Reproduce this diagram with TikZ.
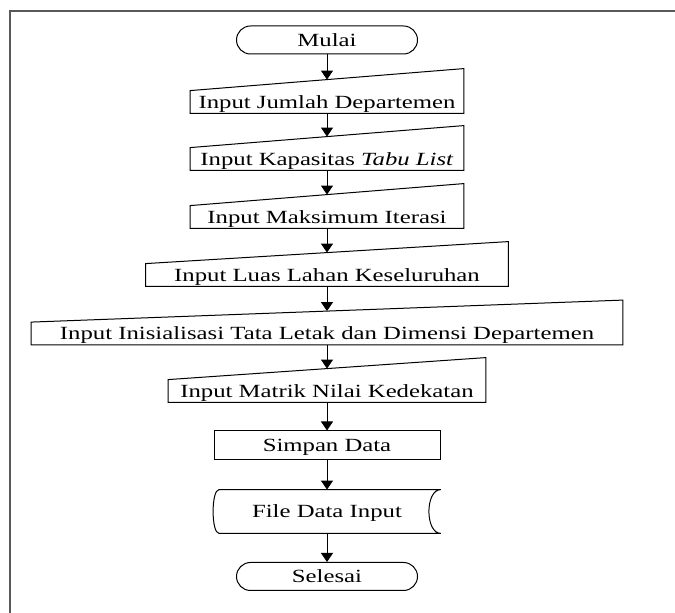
\documentclass[tikz,border=0pt]{standalone}
\usepackage{fontspec}
\setmainfont[FakeStretch=1.33]{Liberation Serif}
\usepackage{xcolor}
\definecolor{FrameGray}{HTML}{595959}
\usepackage{tikz}
\usetikzlibrary{arrows.meta, calc}
\tikzset{
  % Box styles
  flowtext/.style={font=\fontsize{9.3}{11}\selectfont, text height=6.2pt, text depth=0pt, inner xsep=0pt, align=center},
  termbox/.style={flowtext, rectangle, rounded corners=7pt, draw, line width=0.5pt, minimum width=90.5pt, minimum height=14pt},
  inputbox/.style={flowtext, rectangle, minimum height=11pt, inner ysep=0pt},
  processbox/.style={flowtext, rectangle, draw, line width=0.5pt, minimum height=14.5pt},
  storebox/.style={flowtext, rectangle, minimum height=21.5pt},
  % Arrow styles
  arrow/.style={-{Triangle[length=4.5pt,width=6pt]}, line width=0.5pt},
  shapeline/.style={line width=0.5pt}
}
\begin{document}
\begin{tikzpicture}[x=0.5pt,y=-0.5pt]
  \useasboundingbox (0,0) rectangle (675,613);

  % Frame
  \draw[FrameGray, line width=1pt] (10,613) -- (10,11) -- (675,11);

  % Terminals
  \node[termbox] (mulai) at (327,40) {Mulai};
  \node[termbox] (selesai) at (327,576.5) {Selesai};

  % Manual inputs
  \node[inputbox, minimum width=136.5pt] (jumlah) at (327,102) {Input Jumlah Departemen};
  \node[inputbox, minimum width=136.5pt] (kapasitas) at (327,159) {Input Kapasitas \textit{Tabu List}};
  \node[inputbox, minimum width=136.5pt] (maksimum) at (327,217) {Input Maksimum Iterasi};
  \node[inputbox, minimum width=181pt] (luas) at (327,275) {Input Luas Lahan Keseluruhan};
  \node[inputbox, minimum width=295.5pt] (inisial) at (327,333.5) {Input Inisialisasi Tata Letak dan Dimensi Departemen};
  \node[inputbox, minimum width=158.5pt] (matrik) at (327,391) {Input Matrik Nilai Kedekatan};

  \foreach \n in {jumlah,kapasitas,maksimum,luas,inisial,matrik} {
    \draw[shapeline] (\n.south west) -- (\n.south east) -- ([yshift=11pt]\n.north east) -- (\n.north west) -- cycle;
  }

  % Process and stored data
  \node[processbox, minimum width=113pt] (simpan) at (327,445.5) {Simpan Data};
  \node[storebox, minimum width=113.5pt] (file) at (327,511.5) {File Data Input};
  \draw[shapeline] ([xshift=3pt]file.north west) -- (file.north east)
    .. controls ([xshift=-8pt]file.north east) and ([xshift=-8pt]file.south east) .. (file.south east)
    -- ([xshift=3pt]file.south west)
    .. controls ([xshift=-1pt]file.south west) and ([xshift=-1pt]file.north west) .. ([xshift=3pt]file.north west) -- cycle;

  % Connectors
  \foreach \a/\b in {mulai/jumlah, jumlah/kapasitas, kapasitas/maksimum, maksimum/luas, luas/inisial, inisial/matrik} {
    \draw[arrow] (\a.south) -- ([yshift=5.5pt]\b.north);
  }
  \foreach \a/\b in {matrik/simpan, simpan/file, file/selesai} {
    \draw[arrow] (\a.south) -- (\b.north);
  }
\end{tikzpicture}
\end{document}
